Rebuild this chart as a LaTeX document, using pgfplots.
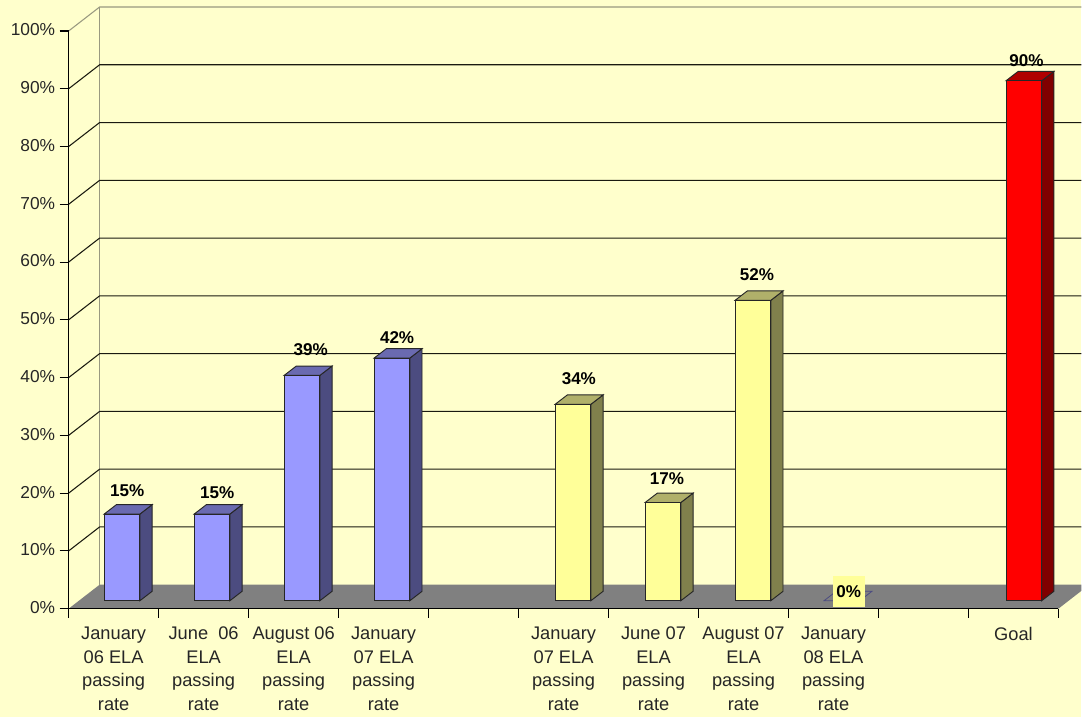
\documentclass[border=0pt]{standalone}
\usepackage{pgfplots}
\usepackage{fontspec}
\setmainfont{Liberation Sans}
\pgfplotsset{compat=1.18}
\definecolor{paper}{HTML}{FFFFCC}
\definecolor{floorgray}{HTML}{808080}
\definecolor{wallgray}{HTML}{999980}
\definecolor{inkdark}{HTML}{262626}
\definecolor{gridink}{HTML}{1A1A10}
\definecolor{blueF}{HTML}{9999FF}\definecolor{blueS}{HTML}{4C4C80}\definecolor{blueT}{HTML}{6A6AB0}
\definecolor{yelF}{HTML}{FFFF99}\definecolor{yelS}{HTML}{80804C}\definecolor{yelT}{HTML}{B0B06A}
\definecolor{redF}{HTML}{FF0000}\definecolor{redS}{HTML}{800000}\definecolor{redT}{HTML}{B00000}

% One gridline: left wall rising to the back wall, then along it
\newcommand\gridline[2][gridink]{%
  \pgfmathsetmacro\gy{#2+4.15}%
  \addplot[draw=#1,line width=0.8pt] coordinates {(0,#2)(0.344,\gy)(11.256,\gy)};%
}
% One 3-D column: slot, value, front/side/top colours, label x and y
\newcommand\solidbar[7]{%
  \pgfmathsetmacro\xa{#1+0.395}%
  \pgfmathsetmacro\xb{#1+0.792}%
  \pgfmathsetmacro\xc{#1+0.927}%
  \pgfmathsetmacro\xd{#1+0.530}%
  \pgfmathsetmacro\yt{#2+1.38}%
  \pgfmathsetmacro\yb{#2+3.0}%
  \addplot[draw=black!85,line width=0.7pt,fill=#4] coordinates {(\xb,1.38)(\xc,3.0)(\xc,\yb)(\xb,\yt)} --cycle;
  \addplot[draw=black!85,line width=0.7pt,fill=#5] coordinates {(\xa,\yt)(\xb,\yt)(\xc,\yb)(\xd,\yb)} --cycle;
  \addplot[draw=black!85,line width=0.7pt,fill=#3] coordinates {(\xa,1.38)(\xb,1.38)(\xb,\yt)(\xa,\yt)} --cycle;
  \node[font=\fontsize{12.8}{14}\selectfont\bfseries,text=black] at (axis cs:#6,#7) {#2\%};
}

\begin{document}
\begin{tikzpicture}
\fill[paper] (-51.525pt,-81pt) rectangle (759.975pt,456.75pt);
\begin{axis}[
  scale only axis, width=742.725pt, height=433.5pt,
  at={(0pt,0pt)}, anchor=south west,
  xmin=0, xmax=11, ymin=0, ymax=100,
  clip=false, axis on top,
  axis lines=left, axis line style={-,draw=black,line width=0.8pt},
  tick align=outside, major tick length=6.75pt, minor tick length=6.75pt,
  ytick={0,10,...,100},
  yticklabel={\pgfmathprintnumber[assume math mode=true]{\tick}\%},
  yticklabel style={font=\fontsize{13}{14}\selectfont,text=inkdark,inner sep=1pt,xshift=-2.2pt,yshift=0.8pt},
  tick style={draw=black,line width=0.8pt},
  minor xtick={0,1,...,11},
  xtick={0.5,1.5,2.5,3.5,5.5,6.5,7.5,8.5,10.5},
  major x tick style={draw=none},
  minor x tick style={draw=black,line width=0.8pt},
  xticklabels={{January\\06 ELA\\passing\\rate},{June~~06\\ELA\\passing\\rate},{August 06\\ELA\\passing\\rate},{January\\07 ELA\\passing\\rate},{January\\07 ELA\\passing\\rate},{June 07\\ELA\\passing\\rate},{August 07\\ELA\\passing\\rate},{January\\08 ELA\\passing\\rate},{Goal}},
  xticklabel style={align=center,anchor=north,font=\fontsize{13.7}{17.6}\selectfont,text=inkdark,yshift=-3.6pt},
]
% floor of the chart
\addplot[draw=none,fill=floorgray] coordinates {(0,0)(11,0)(11.256,3.1)(11.256,4.15)(0.344,4.15)} --cycle;
% back wall edge and gridlines
\addplot[draw=wallgray,line width=0.75pt] coordinates {(0.344,4.15)(0.344,104.15)};
\gridline{10}\gridline{20}\gridline{30}\gridline{40}\gridline{50}
\gridline{60}\gridline{70}\gridline{80}\gridline{90}
\gridline[wallgray]{100}

% columns for the 2006 group
\solidbar{0}{15}{blueF}{blueS}{blueT}{0.650}{20.4}
\solidbar{1}{15}{blueF}{blueS}{blueT}{1.650}{20.0}
\solidbar{2}{39}{blueF}{blueS}{blueT}{2.690}{44.8}
\solidbar{3}{42}{blueF}{blueS}{blueT}{3.650}{47.0}
% columns for the 2007 group
\solidbar{5.012}{34}{yelF}{yelS}{yelT}{5.670}{39.8}
\solidbar{6.012}{17}{yelF}{yelS}{yelT}{6.650}{22.5}
\solidbar{7.012}{52}{yelF}{yelS}{yelT}{7.650}{57.8}
% the empty January 08 column, its label boxed over it
\addplot[draw=blueS,line width=0.6pt,fill=floorgray] coordinates {(8.395,1.38)(8.792,1.38)(8.927,3.0)(8.530,3.0)} --cycle;
\node[fill=yelF,minimum width=24pt,minimum height=23pt,inner sep=0pt,
      font=\fontsize{12.8}{14}\selectfont\bfseries,text=black] at (axis cs:8.67,3.0) {0\%};
% target column
\solidbar{10.022}{90}{redF}{redS}{redT}{10.645}{94.8}
\end{axis}
\end{tikzpicture}
\end{document}
